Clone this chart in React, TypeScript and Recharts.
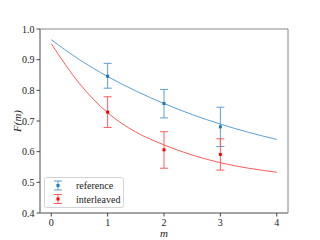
import React from 'react'
import {
  ComposedChart,
  Line,
  Scatter,
  ErrorBar,
  XAxis,
  YAxis,
  Label,
  ReferenceArea,
} from 'recharts'

// measured points
const mValues = [1, 2, 3]
const refValues = [0.846, 0.757, 0.681]
const refLower = [0.807, 0.71, 0.617]
const refUpper = [0.888, 0.803, 0.745]
const intValues = [0.729, 0.606, 0.591]
const intLower = [0.679, 0.546, 0.54]
const intUpper = [0.779, 0.665, 0.642]

// fitted curves
const fitM = [0, 0.5, 1, 1.5, 2, 2.5, 3, 3.5, 4]
const refFit = [0.965, 0.9, 0.845, 0.798, 0.757, 0.721, 0.69, 0.663, 0.64]
const intFit = [0.952, 0.822, 0.727, 0.664, 0.622, 0.589, 0.564, 0.546, 0.533]

const xTicks = [0, 1, 2, 3, 4]
const yTicks = [0.4, 0.5, 0.6, 0.7, 0.8, 0.9, 1.0]

const FONT = '"Liberation Serif", serif'
const REF_COLOR = '#1f77b4'
const REF_LIGHT = '#5d9fd3'
const INT_COLOR = '#ff0000'
const INT_LIGHT = '#ff5c5c'

const refPoints = mValues.map((m, i) => ({
  m,
  v: refValues[i],
  err: [refValues[i] - refLower[i], refUpper[i] - refValues[i]],
}))
const intPoints = mValues.map((m, i) => ({
  m,
  v: intValues[i],
  err: [intValues[i] - intLower[i], intUpper[i] - intValues[i]],
}))
const refCurve = fitM.map((m, i) => ({ m, v: refFit[i] }))
const intCurve = fitM.map((m, i) => ({ m, v: intFit[i] }))

const squareShape = (color: string) => (props: any) => {
  const { cx, cy } = props
  return <rect x={cx - 1.5} y={cy - 1.5} width={3} height={3} fill={color} />
}

// legend drawn as a small svg on top of the chart
function ChartLegend() {
  const rows = [
    { name: 'reference', color: REF_COLOR, light: REF_LIGHT },
    { name: 'interleaved', color: INT_COLOR, light: INT_LIGHT },
  ]
  return (
    <svg width={80} height={31} style={{ position: 'absolute', left: 44, top: 177, fontFamily: FONT }}>
      <rect x={0.5} y={0.5} width={79} height={30} rx={2} fill="rgba(255,255,255,0.85)" stroke="#d4d4d4" />
      {rows.map((r, i) => {
        const cy = 8.5 + i * 13.5
        return (
          <g key={r.name}>
            <line x1={10} x2={18} y1={cy - 4.5} y2={cy - 4.5} stroke={r.light} />
            <line x1={14} x2={14} y1={cy - 4.5} y2={cy + 4.5} stroke={r.light} />
            <line x1={10} x2={18} y1={cy + 4.5} y2={cy + 4.5} stroke={r.light} />
            <rect x={12.5} y={cy - 1.5} width={3} height={3} fill={r.color} />
            <text x={32} y={cy + 3.5} style={{ fontFamily: FONT, fontSize: 10 }} fill="#222">{r.name}</text>
          </g>
        )
      })}
    </svg>
  )
}

export default function App() {
  const tickStyle = { fontSize: 10, fill: '#222' }
  return (
    <div style={{ position: 'relative', width: 320, height: 240, background: '#fff', fontFamily: FONT }}>
      <style>{'body{margin:0}'}</style>
      <ComposedChart width={320} height={240} margin={{ top: 29, right: 32, left: 0, bottom: 0 }}>
        <XAxis
          type="number"
          dataKey="m"
          domain={[-0.2, 4.2]}
          ticks={xTicks}
          tick={tickStyle}
          tickLine={{ stroke: '#444' }}
          tickSize={3.5}
          stroke="#888"
          height={27}
          allowDataOverflow
        >
          <Label value="m" position="insideBottom" offset={3} style={{ fontStyle: 'italic', fontSize: 11, fill: '#222' }} />
        </XAxis>
        <YAxis
          type="number"
          domain={[0.4, 1.0]}
          ticks={yTicks}
          tickFormatter={(v: number) => v.toFixed(1)}
          tick={tickStyle}
          tickLine={{ stroke: '#444' }}
          tickSize={3.5}
          stroke="#888"
          width={40}
          allowDataOverflow
        >
          <Label value="F(m)" angle={-90} position="insideLeft" offset={17} style={{ fontStyle: 'italic', fontSize: 11, fill: '#222', textAnchor: 'middle' }} />
        </YAxis>
        <ReferenceArea x1={-0.2} x2={4.2} y1={0.4} y2={1.0} fill="none" stroke="#888" strokeWidth={1} ifOverflow="visible" />
        <Line
          data={refCurve}
          dataKey="v"
          type="monotone"
          stroke={REF_LIGHT}
          strokeWidth={1}
          dot={false}
          activeDot={false}
          isAnimationActive={false}
        />
        <Line
          data={intCurve}
          dataKey="v"
          type="monotone"
          stroke={INT_LIGHT}
          strokeWidth={1}
          dot={false}
          activeDot={false}
          isAnimationActive={false}
        />
        <Scatter
          name="reference"
          data={refPoints}
          dataKey="v"
          shape={squareShape(REF_COLOR)}
          isAnimationActive={false}
        >
          <ErrorBar dataKey="err" direction="y" width={4} stroke={REF_LIGHT} strokeWidth={1} />
        </Scatter>
        <Scatter
          name="interleaved"
          data={intPoints}
          dataKey="v"
          shape={squareShape(INT_COLOR)}
          isAnimationActive={false}
        >
          <ErrorBar dataKey="err" direction="y" width={4} stroke={INT_LIGHT} strokeWidth={1} />
        </Scatter>
      </ComposedChart>
      <ChartLegend />
    </div>
  )
}
